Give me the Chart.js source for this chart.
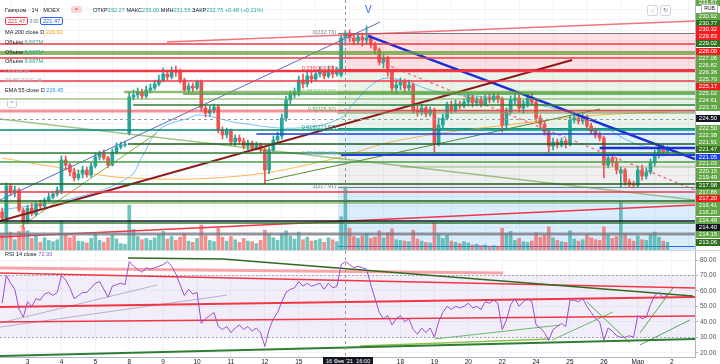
<!DOCTYPE html>
<html>
<head>
<meta charset="utf-8">
<title>Газпром · 1Ч · MOEX</title>
<script src="https://cdn.jsdelivr.net/npm/chart.js@4.4.1/dist/chart.umd.min.js"></script>
<style>
  body { margin: 0; background: #fff; }
  #wrap { position: relative; width: 720px; height: 364px; overflow: hidden; font-family: "Liberation Sans", Arial, sans-serif; color: #131722; }
  canvas { position: absolute; left: 0; }
  #priceChart { top: 0; }
  #rsiChart { top: 251px; }
  .sep { position: absolute; left: 0; top: 250px; width: 720px; height: 1px; background: #d1d4dc; }
  .lg { position: absolute; left: 5px; font-size: 5.6px; line-height: 7px; white-space: nowrap; }
  .g { color: #26a69a; }
  .faded { color: #b2b5be; }
  .box { display: inline-block; padding: 0 2px; border: 1px solid; border-radius: 2px; line-height: 6px; }
  .tag { position: absolute; left: 696px; width: 24px; height: 7px; font-size: 6px; line-height: 7px; text-align: center; color: #fff; }
</style>
</head>
<body>
<div id="wrap">
  <canvas id="priceChart" width="720" height="250"></canvas>
  <div class="sep"></div>
  <canvas id="rsiChart" width="720" height="113"></canvas>

  <div class="lg" style="top:7px">Газпром · 1Ч · MOEX</div>
  <div class="lg" style="left:71px;top:6px;width:11px;height:7px;background:#f8d7da;border-radius:2px;text-align:center;color:#f23645">=</div>
  <div class="lg" style="left:93px;top:7px">ОТКР<span class="g">232.27</span> МАКС<span class="g">233.00</span> МИН<span class="g">231.55</span> ЗАКР<span class="g">232.75</span> <span class="g">+0.48 (+0.21%)</span></div>
  <div class="lg" style="top:17px"><span class="box" style="color:#f23645;border-color:#f23645">221.47</span> <span style="color:#787b86;font-size:4.5px">0.00</span> <span class="box" style="color:#2962ff;border-color:#2962ff">221.47</span></div>
  <div class="lg" style="top:29px">MA 200 close D <span style="color:#ff9800">220.92</span></div>
  <div class="lg" style="top:39px">Объём <span class="g">9.667M</span></div>
  <div class="lg" style="top:49px">Объём <span class="g">9.667M</span></div>
  <div class="lg" style="top:58px">Объём <span class="g">9.667M</span></div>
  <div class="lg faded" style="top:68px">Объём ⊗</div>
  <div class="lg faded" style="top:77px">WVBEIPOC ⊗</div>
  <div class="lg" style="top:87px">EMA 55 close D <span style="color:#2196f3">226.45</span></div>
  <div class="lg" style="left:7px;top:99px;width:8px;height:7px;border:1px solid #d1d4dc;border-radius:2px;text-align:center;color:#787b86">^</div>
  <div class="lg" style="left:365px;top:5px;font-size:10px;line-height:10px;color:#2962ff">V</div>
  <div class="lg" style="top:251px">RSI 14 close <span style="color:#7e57c2">72.30</span></div>
  <div class="lg" style="left:647px;top:5px;width:9px;height:9px;border:1px solid #d1d4dc;border-radius:2px;text-align:center;line-height:9px;color:#787b86">↓</div>
  <div class="lg" style="left:660px;top:5px;width:9px;height:9px;border:1px solid #d1d4dc;border-radius:2px;text-align:center;line-height:9px;color:#787b86">↻</div>
  <div id="tags"></div>
  <div class="lg" style="left:701px;top:4px;width:15px;height:7px;border:1px solid #b2b5be;background:#fff;text-align:center;font-size:5px;z-index:2">RUB</div>
  <div class="lg" style="left:323px;top:357px;width:50px;height:8px;background:#131722;color:#fff;text-align:center;font-size:5.6px;line-height:8px">16 Фев '21 &nbsp;16:00</div>
</div>

<script>
// hourly candles, Feb 2 (partial) .. Mar 1, 8 bars per trading day
const opens = [
  215.51,214.93,218.01,217.43,217.62,215.70,
  214.54,215.89,215.31,216.28,216.08,216.66,216.95,217.24,
  217.43,220.51,220.03,219.36,218.78,219.16,219.55,219.07,
  219.93,220.80,221.09,220.70,220.03,221.28,221.76,221.95,
  223.11,226.57,226.77,227.06,226.67,227.25,227.44,227.83,
  228.21,228.79,228.50,229.17,228.98,228.21,227.25,227.63,
  227.44,228.02,225.52,225.03,225.32,225.61,223.40,222.92,
  223.30,222.24,222.63,222.34,221.86,222.15,221.66,221.95,
  221.47,219.55,221.47,222.44,222.82,224.55,226.29,226.77,
  227.06,228.21,227.83,228.59,228.31,228.79,228.98,228.59,
  229.17,228.79,228.69,232.27,232.73,232.25,231.96,232.35,
  232.06,232.25,231.58,231.10,229.94,230.33,228.98,227.44,
  227.73,228.02,227.44,227.73,225.32,225.13,225.52,224.94,
  225.32,222.15,223.88,224.55,225.71,225.32,225.90,225.71,
  226.09,226.57,226.00,226.29,225.90,226.48,226.29,226.67,
  226.38,223.88,225.13,226.29,226.48,225.52,225.90,226.48,
  226.09,224.55,223.97,223.21,221.86,222.24,221.95,222.34,
  222.05,224.36,224.55,224.26,224.65,223.78,223.30,222.92,
  222.63,220.03,220.70,220.32,219.26,219.55,218.39,218.20,
  218.10,219.55,218.97,219.36,220.22,220.99,221.57,221.28
];
const highs = [
  215.89,218.30,218.20,218.01,217.81,215.89,
  216.18,216.37,216.47,216.66,216.85,217.33,217.52,217.91,
  220.90,220.90,220.22,219.74,219.55,219.93,219.84,220.22,
  221.18,221.38,221.47,220.90,221.57,222.15,222.24,222.34,
  227.06,227.25,227.44,227.34,227.63,227.83,228.21,228.69,
  229.37,229.17,229.46,229.56,229.27,228.40,227.92,227.92,
  228.21,228.21,225.80,225.71,225.90,225.80,223.69,223.59,
  223.49,222.92,222.92,222.63,222.44,222.34,222.24,222.15,
  221.66,221.76,222.82,223.21,224.94,226.67,227.15,227.44,
  228.59,228.79,228.98,228.98,229.17,229.46,229.27,229.56,
  229.56,229.46,232.45,233.00,233.02,232.64,232.64,232.73,
  233.41,232.54,231.87,231.29,230.62,230.52,229.17,228.21,
  228.40,228.31,228.21,227.92,225.71,225.90,225.71,225.61,
  225.52,224.55,224.94,226.09,226.19,226.29,226.19,226.38,
  226.86,226.77,226.57,226.57,226.77,226.86,226.96,226.86,
  226.57,225.52,226.67,226.86,226.77,226.29,226.86,226.96,
  226.29,224.84,224.26,223.40,222.63,222.53,222.63,222.53,
  224.84,224.94,224.84,225.03,224.84,224.07,223.59,223.21,
  222.82,220.99,220.90,220.70,219.84,219.74,218.68,218.49,
  219.93,220.03,219.74,220.61,221.47,221.86,221.95,221.86
];
const lows = [
  214.64,214.73,217.14,216.95,215.51,213.96,
  214.35,215.12,215.12,215.79,215.89,216.47,216.76,217.04,
  217.24,219.55,218.97,218.49,218.58,218.78,218.87,218.87,
  219.74,220.51,220.51,219.74,219.93,221.09,221.57,221.76,
  222.92,226.29,226.48,226.38,226.48,226.96,227.25,227.63,
  228.02,228.21,228.31,228.59,227.92,227.06,226.96,227.06,
  227.25,225.23,224.65,224.74,225.03,223.11,222.53,222.63,
  221.95,221.86,222.05,221.57,221.47,221.38,221.47,221.18,
  218.20,219.16,221.28,222.15,222.53,224.26,225.90,226.48,
  226.67,227.44,227.54,227.92,228.11,228.50,228.31,228.40,
  228.40,228.59,228.50,231.55,231.87,231.58,231.67,231.48,
  231.67,231.29,230.71,229.65,229.37,228.59,227.06,226.96,
  227.25,227.06,227.15,225.03,224.74,224.84,224.65,224.74,
  221.28,221.86,223.59,224.36,225.03,225.13,225.42,225.52,
  225.71,225.61,225.71,225.61,225.71,226.00,226.09,226.00,
  223.21,223.59,224.94,225.90,225.13,225.03,225.61,225.80,
  224.26,223.59,222.92,221.28,221.47,221.66,221.76,221.66,
  221.86,224.07,223.97,223.97,223.40,223.01,222.63,222.34,
  218.78,219.74,219.93,219.16,217.91,218.10,217.91,217.81,
  217.91,218.58,218.68,219.16,219.93,220.70,220.90,221.09
];
const closes = [
  214.93,218.01,217.43,217.62,215.70,214.54,
  215.89,215.31,216.28,216.08,216.66,216.95,217.24,217.62,
  220.51,220.03,219.36,218.78,219.16,219.55,219.07,219.93,
  220.80,221.09,220.70,220.03,221.28,221.76,221.95,222.05,
  226.57,226.77,227.06,226.67,227.25,227.44,227.83,228.21,
  228.79,228.50,229.17,228.98,228.21,227.25,227.63,227.44,
  228.02,225.52,225.03,225.32,225.61,223.40,222.92,223.30,
  222.24,222.63,222.34,221.86,222.15,221.66,221.95,221.47,
  219.55,221.47,222.44,222.82,224.55,226.29,226.77,227.06,
  228.21,227.83,228.59,228.31,228.79,228.98,228.59,229.17,
  228.79,229.17,232.25,232.75,232.25,231.96,232.35,232.06,
  232.25,231.58,231.10,229.94,230.33,228.98,227.44,227.73,
  228.02,227.44,227.73,225.32,225.13,225.52,224.94,225.32,
  222.15,223.88,224.55,225.71,225.32,225.90,225.71,226.09,
  226.57,226.00,226.29,225.90,226.48,226.29,226.67,226.38,
  223.88,225.13,226.29,226.48,225.52,225.90,226.48,226.09,
  224.55,223.97,223.21,221.86,222.24,221.95,222.34,222.05,
  224.36,224.55,224.26,224.65,223.78,223.30,222.92,222.63,
  220.03,220.70,220.32,219.55,219.55,218.39,218.20,218.10,
  219.55,218.97,219.36,220.22,220.99,221.57,221.28,221.47
];
// volume, millions
const volumes = [
  2.4,7.3,2.8,1.6,2.9,3.5,
  3.0,1.8,2.2,1.2,1.9,1.5,1.3,1.6,
  4.6,2.5,1.9,2.2,1.4,1.3,1.1,1.8,
  2.6,1.5,1.2,1.9,2.3,1.7,1.0,0.9,
  7.0,3.2,2.1,1.6,1.8,1.5,1.9,2.4,
  2.9,1.7,2.1,1.5,2.0,2.6,1.4,1.2,
  1.8,3.9,2.2,1.5,1.3,3.4,2.0,1.4,
  2.1,1.6,1.2,1.8,1.4,1.3,1.0,1.5,
  3.1,2.4,1.9,1.5,2.6,3.0,2.2,1.7,
  2.8,1.6,2.0,1.4,1.5,1.7,1.2,1.9,
  1.6,1.3,5.2,9.667,3.4,2.1,1.8,2.2,
  2.6,1.8,2.0,3.0,1.9,2.7,3.3,1.6,
  1.5,1.4,1.3,3.1,1.7,1.4,1.2,1.1,
  4.3,2.5,1.8,2.3,1.4,1.2,1.0,1.3,
  1.1,0.8,0.9,0.7,0.8,0.6,0.7,0.6,
  3.4,2.6,2.9,1.5,1.8,1.3,1.2,1.4,
  2.7,2.0,2.3,3.6,1.9,1.5,1.3,1.2,
  3.0,1.7,1.4,1.6,2.4,1.9,1.6,1.5,
  3.6,2.4,1.8,2.1,7.5,2.6,1.7,1.4,
  2.2,1.6,1.5,2.5,2.8,2.0,1.4,1.2
];
const rsiValues = [
  52,70,65,61,48,43,
  53,50,55,54,58,59,57,59,
  70,67,62,55,57,59,59,62,
  65,66,61,56,63,64,65,64,
  79,76,74,72,75,74,75,76,
  77,79,76,71,64,57,61,58,
  59,39,42,44,46,37,35,37,
  33,36,38,35,37,34,36,33,
  24,35,42,46,53,59,61,62,
  66,63,65,63,64,65,61,65,
  62,63,77,79,77,75,76,75,
  74,64,55,46,42,44,38,42,
  44,40,42,35,32,36,33,36,
  30,40,46,50,48,50,49,50,
  52,49,50,48,53,52,54,52,
  35,41,51,55,50,53,55,53,
  38,36,33,28,35,37,39,37,
  54,54,53,55,50,46,42,40,
  28,36,34,31,30,30,31,30,
  44,42,43,51,57,59,55,58
];

// moving averages, read at a few bars
const maBars = [0, 14, 30, 56, 77, 94, 125, 141, 157];
const maValues = [220.70, 219.74, 218.78, 218.97, 220.51, 222.44, 224.17, 224.84, 225.13];
const emaBars = [0, 18, 30, 33, 37, 44, 47, 56, 70, 80, 83, 89, 94, 103, 120, 138, 149, 157];
const emaValues = [215.70, 216.95, 218.87, 220.80, 223.40, 224.55, 224.84, 224.07, 223.59, 224.55, 226.00, 228.21, 228.21, 227.06, 226.29, 224.55, 222.15, 221.47];

// day ticks on the time axis
const dayBars = [6, 14, 22, 30, 38, 46, 54, 62, 70, 78, 86, 94, 102, 110, 118, 126, 134, 142, 150, 158];
const dayNames = ['3', '4', '5', '8', '9', '10', '11', '12', '15', '16', '17', '18', '19', '20', '22', '24', '25', '26', 'Мар', '2'];

// horizontal levels drawn on the price pane
const levelPrices = [231.67, 230.91, 230.71, 230.33, 229.07, 228.11, 227.06, 226.86, 226.38, 225.80, 225.23, 225.03, 223.40, 223.01, 222.05, 221.66, 221.18, 220.99, 220.32, 219.84, 218.20, 217.43, 216.56, 216.37, 214.64, 214.45, 213.39];
const levelFrom = [-0.5, -0.5, -0.5, -0.5, -0.5, -0.5, 28.8, 42.7, -0.5, 30.9, -0.5, 79, -0.5, 60, 29.7, 141, -0.5, 80, -0.5, 94, -0.5, -0.5, -0.5, -0.5, -0.5, -0.5, -0.5];
const levelStyles = [
  ['#f23645', 1.5], ['rgba(104,159,56,0.75)', 2], ['rgba(104,159,56,0.75)', 2], ['#f23645', 1.5],
  ['#f23645', 2.5], ['#f23645', 1.5], ['rgba(104,159,56,0.7)', 2.5], ['#43a047', 1.5],
  ['rgba(104,159,56,0.6)', 1.5], ['#2e7d32', 1.5], ['rgba(242,54,69,0.55)', 3], ['#66bb6a', 1],
  ['#00897b', 1.5], ['#1e3fe0', 1.5], ['#1b5e20', 1.5], ['#1a2fd8', 2.5],
  ['#2e7d32', 1.5], ['#1e3fe0', 2], ['#43a047', 1.5], ['rgba(104,159,56,0.6)', 1],
  ['#1b5e20', 1.5], ['#f23645', 1.5], ['#1b5e20', 1.5], ['rgba(104,159,56,0.7)', 1.5],
  ['#131722', 1.5], ['#2e7d32', 1.5], ['rgba(120,123,134,0.8)', 3]
];

// trend lines: [bar0, price0, bar1, price1]
const trendLines = [
  [38.9, 231.87, 163.5, 233.89],
  [-0.5, 216.66, 89.2, 233.79],
  [-0.5, 214.64, 134.5, 230.13],
  [86.3, 232.45, 163.5, 220.61],
  [89.2, 229.94, 163.5, 217.62],
  [4.2, 214.06, 36.5, 223.11],
  [62, 218.49, 141.1, 225.42],
  [-0.5, 224.46, 163.5, 216.66],
  [-0.5, 213.10, 163.5, 216.18]
];
const trendStyles = [
  ['rgba(242,54,69,0.7)', 1.5], ['#5c6bc0', 1], ['#8e1b1b', 2], ['#1a2fd8', 2.5],
  ['rgba(242,90,110,0.8)', 1.5, [3, 3]], ['#7cb342', 1], ['#558b2f', 1],
  ['rgba(104,159,56,0.6)', 1.5], ['#f23645', 1.5]
];

// lines on the RSI pane: [bar0, rsi0, bar1, rsi1]
const rsiLines = [
  [29.7, 81.3, 52.1, 80.6], [52.1, 80.6, 163, 56.7],
  [-0.5, 74.8, 118.2, 71.6], [-0.5, 71.6, 163.5, 61.9],
  [-0.5, 49.6, 163.5, 56.1], [-0.5, 39.9, 163.5, 43.8],
  [-0.5, 39.2, 36.5, 63.8], [-0.5, 36.6, 53.1, 57.3],
  [-0.5, 17.9, 163.5, 28.9], [84.4, 24.3, 129.3, 28.9],
  [102.1, 28.9, 131.6, 37.9], [129.8, 28.2, 144.1, 46.3],
  [138, 52.8, 148.2, 26.3], [150.5, 32.8, 158.3, 61.9], [150.5, 25.0, 162.3, 41.2]
];
const rsiLineStyles = [
  ['#33691e', 1.5], ['#33691e', 1.5],
  ['rgba(242,54,69,0.45)', 3], ['#f23645', 1.5],
  ['#f23645', 2], ['#f23645', 1.5],
  ['rgba(170,160,190,0.8)', 1], ['rgba(170,160,190,0.8)', 1],
  ['#2e7d32', 2], ['#8bc34a', 1.5],
  ['#66bb6a', 1], ['#66bb6a', 1],
  ['#4caf50', 1], ['#4caf50', 1], ['#4caf50', 1]
];

// fibonacci retracement
const fibHigh = 232.73, fibLow = 217.91, fibFrom = 79.25;
const fibRatios = [0, 0.236, 0.382, 0.5, 0.618, 0.786, 1, 1.382];
const fibLineColors = ['#787b86', '#f23645', '#81c784', '#4caf50', '#089981', '#64b5f6', '#787b86', '#2962ff'];
const fibFills = ['rgba(242,54,69,0.15)', 'rgba(76,175,80,0.12)', 'rgba(76,175,80,0.12)', 'rgba(76,175,80,0.12)', 'rgba(33,150,243,0.12)', 'rgba(120,123,134,0.12)', 'rgba(33,150,243,0.16)'];

const crossBar = 81, crossPrice = 224.50;
const rsiTicks = [20, 30, 40, 50, 60, 70, 80];

// price scale tags
const tagText = ['231.67','230.92','230.77','230.32','229.83','229.02','228.09','227.06','226.82','226.36','225.70','225.17','225.02','224.61','223.70','224.50','222.50','222.38','221.91','221.47','221.05','221.03','220.15','219.49','217.98','217.86','217.20','216.41','216.20','214.48','214.40','214.15','213.06'];
const tagKind = ['g','g','G','r','r','G','r','g','g','g','g','r','g','g','g','k','g','g','g','G','b','g','g','g','G','g','r','g','g','g','k','g','G'];
const tagY = [2,16,23,29,36,43,51,58,65,72,79,86,93,100,107,118,128,135,142,149,157,163,171,177,185,192,198,205,212,220,227,234,242];
const tagColors = { g: '#62a646', G: '#2f6f1e', r: '#f01e1e', k: '#131722', b: '#1e3fe0' };

const tagsEl = document.getElementById('tags');
tagText.forEach((t, i) => {
  const d = document.createElement('div');
  d.className = 'tag';
  d.style.top = (tagY[i] - 3.5) + 'px';
  d.style.background = tagColors[tagKind[i]];
  d.textContent = t;
  tagsEl.appendChild(d);
});

Chart.defaults.font.family = '"Liberation Sans", Arial, sans-serif';

const UP = '#26a69a', DN = '#ef5350';
const isUp = closes.map((c, i) => c >= opens[i]);
const candleColor = ctx => isUp[ctx.dataIndex] ? UP : DN;
const volColor = ctx => isUp[ctx.dataIndex] ? 'rgba(38,166,154,0.65)' : 'rgba(239,83,80,0.65)';
const fibPrice = r => fibHigh - r * (fibHigh - fibLow);

function seg(p, style, axis) {
  return {
    type: 'line', yAxisID: axis, order: 1,
    data: [{ x: p[0], y: p[1] }, { x: p[2], y: p[3] }],
    borderColor: style[0], borderWidth: style[1], borderDash: style[2] || [],
    pointRadius: 0, tension: 0
  };
}

const priceDatasets = [
  {
    type: 'bar', label: 'wicks', order: 3, grouped: false, barThickness: 1,
    data: closes.map((c, i) => ({ x: i, y: [lows[i], highs[i]] })),
    backgroundColor: candleColor
  },
  {
    type: 'bar', label: 'bodies', order: 2, grouped: false, barThickness: 3, minBarLength: 1,
    data: closes.map((c, i) => ({ x: i, y: [opens[i], c] })),
    backgroundColor: candleColor
  },
  {
    type: 'bar', label: 'Объём', order: 9, grouped: false, barThickness: 3, yAxisID: 'v',
    data: volumes.map((v, i) => ({ x: i, y: v })),
    backgroundColor: volColor
  },
  {
    type: 'line', label: 'MA 200', order: 4,
    data: maBars.map((b, i) => ({ x: b, y: maValues[i] })),
    borderColor: 'rgba(255,152,0,0.7)', borderWidth: 1, pointRadius: 0, tension: 0.4
  },
  {
    type: 'line', label: 'EMA 55', order: 4,
    data: emaBars.map((b, i) => ({ x: b, y: emaValues[i] })),
    borderColor: 'rgba(33,150,243,0.6)', borderWidth: 1, pointRadius: 0, tension: 0.4
  }
];
levelPrices.forEach((p, i) => priceDatasets.push(seg([levelFrom[i], p, 163.5, p], levelStyles[i], 'y')));
trendLines.forEach((t, i) => priceDatasets.push(seg(t, trendStyles[i], 'y')));

const pricePlugin = {
  id: 'fibAndCross',
  beforeDatasetsDraw(chart) {
    const { ctx, chartArea: a, scales: { x, y } } = chart;
    const x0 = x.getPixelForValue(fibFrom);
    ctx.save();
    for (let i = 0; i < fibRatios.length - 1; i++) {
      const top = y.getPixelForValue(fibPrice(fibRatios[i]));
      const bot = i === fibRatios.length - 2 ? a.bottom : y.getPixelForValue(fibPrice(fibRatios[i + 1]));
      ctx.fillStyle = fibFills[i];
      ctx.fillRect(x0, top, a.right - x0, bot - top);
    }
    fibRatios.forEach((r, i) => {
      const py = Math.round(y.getPixelForValue(fibPrice(r))) + 0.5;
      ctx.strokeStyle = fibLineColors[i];
      ctx.lineWidth = 1;
      ctx.beginPath(); ctx.moveTo(x0, py); ctx.lineTo(a.right, py); ctx.stroke();
    });
    ctx.restore();
  },
  afterDatasetsDraw(chart) {
    const { ctx, chartArea: a, scales: { x, y } } = chart;
    const x0 = x.getPixelForValue(fibFrom);
    ctx.save();
    ctx.font = '5.5px "Liberation Sans", Arial, sans-serif';
    ctx.textAlign = 'right';
    ctx.textBaseline = 'bottom';
    fibRatios.slice(0, 7).forEach((r, i) => {
      const py = y.getPixelForValue(fibPrice(r));
      ctx.fillStyle = fibLineColors[i];
      ctx.fillText(r + '(' + fibPrice(r).toFixed(2) + ')', x0 - 2, py + 2);
    });
    ctx.strokeStyle = '#9598a1';
    ctx.lineWidth = 1;
    ctx.setLineDash([3, 3]);
    const cx = Math.round(x.getPixelForValue(crossBar)) + 0.5;
    const cy = Math.round(y.getPixelForValue(crossPrice)) + 0.5;
    ctx.beginPath(); ctx.moveTo(cx, a.top); ctx.lineTo(cx, a.bottom); ctx.stroke();
    ctx.beginPath(); ctx.moveTo(a.left, cy); ctx.lineTo(a.right, cy); ctx.stroke();
    ctx.restore();
  }
};

const dayTicks = s => { s.ticks = dayBars.map(v => ({ value: v })); };
const noPad = s => { s.paddingTop = 0; s.paddingBottom = 0; s.paddingLeft = 0; s.paddingRight = 0; };

new Chart(document.getElementById('priceChart'), {
  type: 'bar',
  data: { datasets: priceDatasets },
  options: {
    responsive: false, animation: false, devicePixelRatio: 1,
    layout: { padding: 0 },
    plugins: { legend: { display: false }, tooltip: { enabled: false } },
    scales: {
      x: {
        type: 'linear', min: -0.5, max: 163.5, offset: false,
        afterBuildTicks: dayTicks,
        ticks: { display: false },
        grid: { color: '#f0f3fa', drawTicks: false },
        border: { display: false },
        afterFit: s => { s.height = 0; noPad(s); }
      },
      y: {
        position: 'right', min: 211.85, max: 235.91,
        afterBuildTicks: s => { const t = []; for (let p = 212; p <= 235; p++) t.push({ value: p }); s.ticks = t; },
        ticks: { display: false },
        grid: { color: '#f3f4f8', drawTicks: false },
        border: { color: '#b2b5be' },
        afterFit: s => { s.width = 25; noPad(s); }
      },
      v: { position: 'left', display: false, min: 0, max: 39 }
    }
  },
  plugins: [pricePlugin]
});

const rsiDatasets = [
  {
    label: 'RSI 14', order: 0,
    data: rsiValues.map((v, i) => ({ x: i, y: v })),
    borderColor: '#9c4dcc', borderWidth: 1, pointRadius: 0, tension: 0
  }
];
rsiLines.forEach((l, i) => rsiDatasets.push(seg(l, rsiLineStyles[i], 'y')));

const rsiPlugin = {
  id: 'rsiBand',
  beforeDatasetsDraw(chart) {
    const { ctx, chartArea: a, scales: { y } } = chart;
    const y70 = y.getPixelForValue(70), y30 = y.getPixelForValue(30);
    ctx.save();
    ctx.fillStyle = 'rgba(126,87,194,0.1)';
    ctx.fillRect(a.left, y70, a.right - a.left, y30 - y70);
    ctx.strokeStyle = '#a3a6af';
    ctx.setLineDash([2, 2]);
    ctx.lineWidth = 1;
    [y70, y30].forEach(py => {
      const yy = Math.round(py) + 0.5;
      ctx.beginPath(); ctx.moveTo(a.left, yy); ctx.lineTo(a.right, yy); ctx.stroke();
    });
    ctx.restore();
  },
  afterDatasetsDraw(chart) {
    const { ctx, chartArea: a, scales: { x } } = chart;
    const cx = Math.round(x.getPixelForValue(crossBar)) + 0.5;
    ctx.save();
    ctx.strokeStyle = '#9598a1';
    ctx.setLineDash([3, 3]);
    ctx.beginPath(); ctx.moveTo(cx, a.top); ctx.lineTo(cx, a.bottom); ctx.stroke();
    ctx.restore();
  }
};

new Chart(document.getElementById('rsiChart'), {
  type: 'line',
  data: { datasets: rsiDatasets },
  options: {
    responsive: false, animation: false, devicePixelRatio: 1,
    layout: { padding: 0 },
    plugins: { legend: { display: false }, tooltip: { enabled: false } },
    scales: {
      x: {
        type: 'linear', min: -0.5, max: 163.5,
        afterBuildTicks: dayTicks,
        ticks: { autoSkip: false, maxRotation: 0, padding: 1, color: '#131722', font: { size: 6.5 },
          callback: v => dayNames[dayBars.indexOf(v)] },
        grid: { color: '#f0f3fa', drawTicks: false },
        border: { color: '#b2b5be' },
        afterFit: s => { s.height = 7; noPad(s); }
      },
      y: {
        position: 'right', min: 17.22, max: 85.83,
        afterBuildTicks: s => { s.ticks = rsiTicks.map(v => ({ value: v })); },
        ticks: { padding: 2, color: '#50535e', font: { size: 6.5 }, callback: v => v.toFixed(2) },
        grid: { color: '#f3f4f8', tickColor: '#b2b5be', tickLength: 3 },
        border: { color: '#b2b5be' },
        afterFit: s => { s.width = 25; noPad(s); }
      }
    }
  },
  plugins: [rsiPlugin]
});
</script>
</body>
</html>
